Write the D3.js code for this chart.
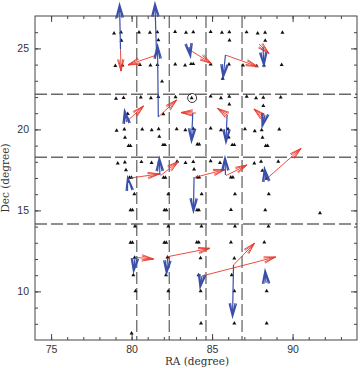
<!DOCTYPE html>
<html>
<head>
<meta charset="utf-8">
<script src="https://cdn.jsdelivr.net/npm/d3@7"></script>
<style>
  html, body { margin: 0; padding: 0; background: #fff; }
  svg { display: block; }
</style>
</head>
<body>
<div id="chart"></div>
<script>
// star positions [RA, Dec]
const stars = [
  [78.91,25.93],[79.34,25.99],[80.46,25.99],[81.14,25.97],[81.60,26.00],[82.70,26.03],[83.38,25.97],[83.83,26.01],
  [84.91,26.03],[85.61,25.97],[86.07,26.01],[87.14,26.00],[87.83,25.93],[88.29,25.98],[89.37,25.98],
  [79.37,25.48],[81.66,25.51],[86.08,25.50],[88.30,25.48],
  [78.99,23.93],[79.43,23.96],[80.52,23.99],[81.17,23.96],[81.60,23.98],[82.71,24.02],[83.32,23.96],[83.69,24.04],
  [83.83,24.04],[84.91,24.02],[86.05,24.02],[86.92,23.96],[87.77,23.91],[88.22,23.96],[89.32,23.98],
  [81.89,22.96],[85.66,23.13],
  [79.03,21.90],[79.50,21.95],[80.57,21.98],[81.20,21.94],[81.66,22.01],[82.73,22.00],[83.73,21.94],[84.91,22.04],
  [85.55,21.94],[86.07,22.02],[87.15,22.02],[87.73,21.94],[88.18,21.96],[89.26,21.98],
  [86.07,21.55],[88.18,21.46],[79.76,20.96],[81.97,20.95],
  [79.07,19.93],[79.55,20.01],[80.66,20.01],[81.25,19.96],[81.68,20.02],[82.80,20.02],[83.34,19.96],[83.83,20.04],
  [84.91,20.07],[85.55,19.96],[85.99,20.02],[87.04,20.02],[87.65,19.90],[88.08,19.96],[89.17,20.01],
  [79.59,19.49],[81.72,19.55],[86.03,19.51],[88.13,19.49],
  [79.81,18.99],[79.93,18.99],[81.95,19.04],[82.07,19.04],[84.08,19.08],[84.20,19.08],[86.25,19.04],[86.38,19.04],
  [88.33,18.99],[88.45,18.99],
  [79.14,17.91],[79.58,17.97],[80.61,17.99],[81.24,17.93],[81.72,18.02],[82.82,18.02],[83.35,17.94],[83.83,18.00],
  [84.91,18.05],[85.49,17.94],[85.80,17.99],[87.62,17.91],[88.04,18.01],[89.11,18.01],
  [79.65,17.49],[83.88,17.54],[88.12,17.45],
  [79.87,17.02],[79.99,17.02],[81.98,17.03],[82.10,17.03],[84.08,17.04],[84.20,17.04],[86.16,17.04],[86.29,17.04],[88.39,16.97],
  [80.17,16.01],[82.28,16.01],[84.35,16.01],[86.42,16.01],[88.52,16.01],
  [79.93,15.02],[80.05,15.02],[82.04,15.02],[82.16,15.02],[84.06,15.02],[84.18,15.02],[86.17,15.04],[88.30,15.02],[91.70,14.84],
  [80.21,14.01],[82.28,14.01],[84.34,14.01],[86.42,14.01],[88.50,14.01],
  [79.93,13.02],[80.05,13.02],[82.03,13.02],[82.15,13.02],[84.05,13.03],[84.17,13.03],[86.17,13.03],[88.24,13.03],
  [80.19,12.09],[82.23,12.10],[84.28,12.06],[86.38,12.04],
  [80.11,11.01],[82.14,11.01],[84.16,11.01],[86.22,11.01],
  [80.24,10.02],[82.28,10.02],[84.29,10.02],[86.38,10.02],[88.39,10.02],
  [84.31,8.03],[86.38,8.03],[88.39,8.03],[80.00,7.41]
];

// blue vectors [ra0, dec0, ra1, dec1]
const blueVec = [
  [79.31,24.96,79.25,27.74],[81.55,24.59,81.45,27.80],[81.66,20.77,81.61,25.21],[79.68,20.46,79.56,21.20],
  [83.57,25.09,83.66,24.47],[85.83,24.59,85.68,23.17],[88.16,25.09,88.22,23.91],[83.80,21.01,83.72,19.22],
  [85.93,20.89,85.86,19.16],[88.29,20.89,88.10,20.15],[79.81,16.69,79.75,17.06],[81.76,17.19,81.72,18.27],
  [83.88,17.06,83.84,14.90],[85.83,17.19,85.80,18.30],[88.35,16.88,88.25,17.62],[80.21,12.06,80.12,11.20],
  [82.23,12.06,82.17,11.07],[84.37,10.95,84.25,10.21],[86.33,11.63,86.27,8.42],[88.35,10.52,88.29,11.32]
];

// red vectors [ra0, dec0, ra1, dec1]
const redVec = [
  [79.31,24.96,79.34,23.60],[81.55,24.59,79.78,23.98],[81.66,20.77,82.79,21.81],[79.68,20.46,80.74,21.44],
  [83.53,24.96,84.96,24.07],[85.83,24.59,87.82,23.88],[87.91,25.27,88.53,24.69],[84.00,21.01,83.07,21.04],
  [85.99,20.86,85.34,21.29],[88.35,20.61,87.60,21.26],[79.93,17.00,81.73,17.25],[81.80,17.15,82.91,18.02],
  [83.94,17.04,85.80,17.52],[85.86,17.15,87.17,17.80],[88.41,16.97,90.52,18.82],[80.24,12.10,81.36,12.00],
  [82.23,12.14,84.87,12.66],[84.37,10.95,88.94,12.12],[86.33,11.63,87.63,12.97]
];

const raLines = [80.32, 82.34, 84.62, 86.86];
const decLines = [22.17, 18.28, 14.16];
const marked = [83.76, 21.94];

const xMajor = [75, 80, 85, 90];
const yMajor = [10, 15, 20, 25];

const W = 360, H = 368;
const x = d3.scaleLinear().domain([74, 94]).range([35, 357]);
const y = d3.scaleLinear().domain([7, 27]).range([340, 16]);

const svg = d3.select('#chart').append('svg').attr('width', W).attr('height', H);

// dashed field boundaries
svg.append('g').selectAll('line').data(decLines).join('line')
  .attr('x1', x(74)).attr('x2', x(94)).attr('y1', d => y(d)).attr('y2', d => y(d))
  .attr('stroke', '#6a6a6a').attr('stroke-width', 1.3).attr('stroke-dasharray', '12,4');
svg.append('g').selectAll('line').data(raLines).join('line')
  .attr('y1', y(27)).attr('y2', y(7)).attr('x1', d => x(d)).attr('x2', d => x(d))
  .attr('stroke', '#6a6a6a').attr('stroke-width', 1.3).attr('stroke-dasharray', '12,4');

// axes, ticks inward on all four sides
const fontTick = 'Liberation Sans, Arial, sans-serif';
function axis(gen, tx, ty) {
  const g = svg.append('g').attr('transform', `translate(${tx},${ty})`).call(gen);
  g.select('.domain').remove();
  g.selectAll('line').attr('stroke', '#444');
  g.selectAll('text').attr('font-family', fontTick).attr('font-size', 10.5).attr('fill', '#333');
  return g;
}
const xMinor = d3.range(75, 94), yMinor = d3.range(8, 27);
axis(d3.axisBottom(x).tickValues(xMajor).tickSize(-6).tickPadding(6).tickFormat(d3.format('d')), 0, y(7));
axis(d3.axisBottom(x).tickValues(xMinor).tickSize(-3).tickFormat(''), 0, y(7));
axis(d3.axisTop(x).tickValues(xMajor).tickSize(-6).tickFormat(''), 0, y(27));
axis(d3.axisTop(x).tickValues(xMinor).tickSize(-3).tickFormat(''), 0, y(27));
axis(d3.axisLeft(y).tickValues(yMajor).tickSize(-6).tickPadding(6).tickFormat(d3.format('d')), x(74), 0);
axis(d3.axisLeft(y).tickValues(yMinor).tickSize(-3).tickFormat(''), x(74), 0);
axis(d3.axisRight(y).tickValues(yMajor).tickSize(-6).tickFormat(''), x(94), 0);
axis(d3.axisRight(y).tickValues(yMinor).tickSize(-3).tickFormat(''), x(94), 0);

svg.append('rect')
  .attr('x', x(74)).attr('y', y(27)).attr('width', x(94) - x(74)).attr('height', y(7) - y(27))
  .attr('fill', 'none').attr('stroke', '#444').attr('stroke-width', 1);

// stars
svg.append('g').selectAll('path').data(stars).join('path')
  .attr('d', d3.symbol(d3.symbolTriangle, 7))
  .attr('transform', d => `translate(${x(d[0])},${y(d[1])})`)
  .attr('fill', '#111');

svg.append('circle')
  .attr('cx', x(marked[0])).attr('cy', y(marked[1])).attr('r', 4.5)
  .attr('fill', 'none').attr('stroke', '#222').attr('stroke-width', 0.9);

// vector with open double-stroke head
function arrowPath(d, len, ang) {
  const x0 = x(d[0]), y0 = y(d[1]), x1 = x(d[2]), y1 = y(d[3]);
  const a = Math.atan2(y1 - y0, x1 - x0);
  const p = d3.path();
  p.moveTo(x0, y0); p.lineTo(x1, y1);
  [ang, ang * 0.6].forEach(t => {
    p.moveTo(x1 - len * Math.cos(a - t), y1 - len * Math.sin(a - t));
    p.lineTo(x1, y1);
    p.lineTo(x1 - len * Math.cos(a + t), y1 - len * Math.sin(a + t));
  });
  return p.toString();
}

svg.append('g').selectAll('path').data(redVec).join('path')
  .attr('d', d => arrowPath(d, 12, 0.27))
  .attr('fill', 'none').attr('stroke', '#e8392c').attr('stroke-width', 0.9);

svg.append('g').selectAll('path').data(blueVec).join('path')
  .attr('d', d => arrowPath(d, 14, 0.27))
  .attr('fill', 'none').attr('stroke', '#3a4faa').attr('stroke-width', 1.2);

// axis titles
const fontTitle = 'DejaVu Serif, serif';
svg.append('text')
  .attr('x', 197).attr('y', 365).attr('text-anchor', 'middle')
  .attr('font-family', fontTitle).attr('font-size', 10.5).attr('fill', '#333')
  .text('RA (degree)');
svg.append('text')
  .attr('transform', 'translate(9,178) rotate(-90)').attr('text-anchor', 'middle')
  .attr('font-family', fontTitle).attr('font-size', 10.5).attr('fill', '#333')
  .text('Dec (degree)');
</script>
</body>
</html>
